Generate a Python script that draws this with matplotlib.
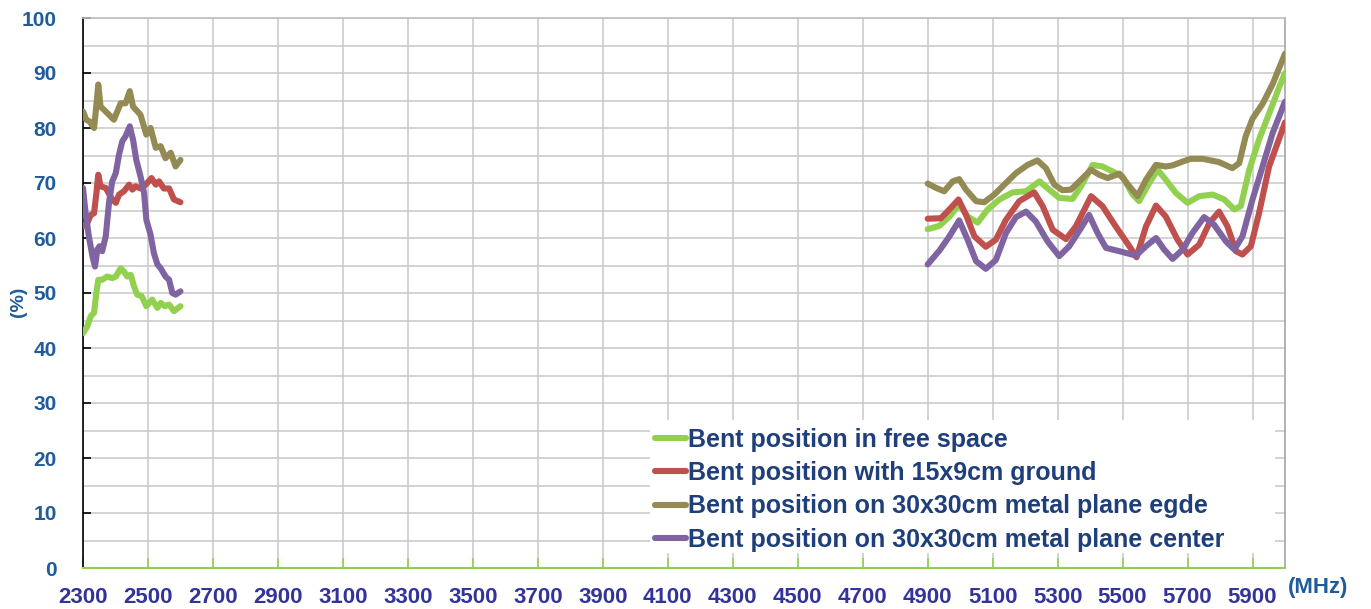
import numpy as np
import matplotlib
matplotlib.use("Agg")
import matplotlib.pyplot as plt
from matplotlib.patches import Rectangle

plt.rcParams['font.family'] = ['Liberation Sans', 'DejaVu Sans']

# ---------------- data ----------------
series_names = [
    "Bent position in free space",
    "Bent position with 15x9cm ground",
    "Bent position on 30x30cm metal plane egde",
    "Bent position on 30x30cm metal plane center",
]
series_colors = ["#92D050", "#C0504D", "#948A54", "#8064A2"]

free_lo_mhz = [2300, 2313, 2324, 2334, 2341, 2347, 2359, 2375, 2390, 2401, 2416, 2426, 2436,
               2447, 2457, 2467, 2481, 2495, 2513, 2529, 2539, 2552, 2565, 2580, 2600]
free_lo_pct = [42.7, 43.9, 45.8, 46.4, 50.0, 52.4, 52.4, 53.0, 52.7, 53.0, 54.5, 53.9, 53.0,
               53.3, 51.2, 49.7, 49.4, 47.6, 48.8, 47.3, 48.2, 47.6, 47.9, 46.7, 47.6]
free_hi_mhz = [4900, 4936, 4967, 4997, 5023, 5054, 5085, 5121, 5162, 5203, 5244, 5274, 5305,
               5346, 5372, 5408, 5438, 5469, 5500, 5531, 5551, 5582, 5608, 5633, 5664, 5700,
               5736, 5777, 5813, 5844, 5864, 5890, 5920, 5951, 5982, 6000]
free_hi_pct = [61.6, 62.2, 63.9, 66.1, 63.9, 62.8, 65.2, 67.0, 68.3, 68.5, 70.3, 68.8, 67.3,
               67.1, 69.4, 73.3, 73.0, 72.1, 71.2, 67.9, 66.7, 70.0, 72.4, 70.6, 68.2, 66.4,
               67.6, 67.9, 67.0, 65.2, 65.8, 72.4, 77.9, 82.6, 87.4, 90.0]

gnd_lo_mhz = [2300, 2313, 2324, 2334, 2341, 2347, 2354, 2370, 2390, 2401, 2411, 2426, 2442,
              2452, 2462, 2477, 2493, 2511, 2524, 2534, 2549, 2565, 2580, 2600]
gnd_lo_pct = [62.1, 62.7, 64.2, 64.5, 68.0, 71.5, 69.4, 69.1, 67.0, 66.4, 67.9, 68.5, 69.7,
              68.8, 69.4, 69.0, 69.7, 70.9, 69.7, 70.3, 69.0, 69.0, 67.0, 66.5]
gnd_hi_mhz = [4900, 4941, 4967, 4995, 5018, 5044, 5079, 5110, 5141, 5182, 5228, 5254, 5285,
              5326, 5356, 5403, 5438, 5479, 5521, 5543, 5572, 5603, 5633, 5669, 5700, 5736,
              5767, 5797, 5823, 5849, 5869, 5895, 5920, 5951, 6000]
gnd_hi_pct = [63.5, 63.6, 65.2, 67.0, 64.2, 60.3, 58.4, 59.7, 63.3, 66.7, 68.3, 65.8, 61.5,
              59.8, 62.1, 67.6, 65.8, 62.1, 58.5, 56.5, 62.1, 65.9, 63.9, 59.7, 57.0, 58.8,
              62.7, 64.8, 62.1, 57.6, 57.0, 58.5, 64.5, 73.0, 81.0]

edge_lo_mhz = [2300, 2310, 2320, 2334, 2341, 2347, 2354, 2370, 2395, 2416, 2431, 2444, 2454,
               2477, 2495, 2508, 2524, 2539, 2554, 2570, 2585, 2600]
edge_lo_pct = [83.0, 81.5, 81.2, 80.0, 84.0, 87.9, 83.9, 83.0, 81.5, 84.5, 84.5, 86.7, 83.9,
               82.4, 78.8, 80.0, 76.4, 76.7, 74.5, 75.5, 73.0, 74.2]
edge_hi_mhz = [4900, 4926, 4951, 4977, 4997, 5018, 5049, 5074, 5105, 5141, 5172, 5208, 5238,
               5264, 5290, 5315, 5341, 5372, 5403, 5428, 5454, 5490, 5521, 5546, 5572, 5603,
               5633, 5654, 5685, 5710, 5746, 5797, 5838, 5859, 5879, 5900, 5931, 5962, 6000]
edge_hi_pct = [69.9, 69.1, 68.5, 70.3, 70.7, 68.8, 66.7, 66.5, 67.9, 70.0, 71.8, 73.3, 74.1,
               72.7, 69.7, 68.7, 68.8, 70.6, 72.4, 71.5, 70.9, 71.7, 69.4, 67.6, 70.6, 73.3,
               73.0, 73.2, 73.9, 74.4, 74.4, 73.8, 72.7, 73.6, 78.5, 81.7, 84.4, 88.0, 93.5]

ctr_lo_mhz = [2300, 2308, 2318, 2329, 2337, 2344, 2351, 2359, 2370, 2380, 2390, 2401, 2411,
              2421, 2431, 2444, 2454, 2464, 2477, 2488, 2495, 2508, 2518, 2529, 2539, 2554,
              2565, 2575, 2585, 2600]
ctr_lo_pct = [69.1, 64.5, 60.3, 56.7, 54.8, 57.9, 58.5, 57.6, 60.3, 66.4, 70.3, 71.8, 75.2,
              77.6, 78.5, 80.3, 77.9, 74.2, 71.2, 68.2, 63.3, 60.6, 57.3, 55.2, 54.5, 53.0,
              52.4, 50.0, 49.7, 50.3]
ctr_hi_mhz = [4900, 4936, 4967, 4997, 5023, 5049, 5079, 5110, 5141, 5172, 5203, 5233, 5269,
              5305, 5336, 5372, 5397, 5423, 5449, 5490, 5541, 5572, 5603, 5628, 5654, 5685,
              5715, 5751, 5782, 5818, 5844, 5869, 5900, 5931, 5962, 6000]
ctr_hi_pct = [55.2, 57.7, 60.3, 63.2, 59.7, 55.8, 54.4, 56.0, 60.9, 63.8, 64.8, 63.0, 59.4,
              56.7, 58.5, 61.8, 64.2, 60.9, 58.2, 57.6, 56.8, 58.5, 60.0, 57.9, 56.2, 57.9,
              60.9, 63.8, 62.4, 59.4, 57.9, 60.3, 67.0, 73.0, 79.1, 84.8]

x_ticks = list(range(2300, 6000, 200))
y_ticks = list(range(0, 101, 10))

segments = [
    (free_lo_mhz, free_lo_pct, free_hi_mhz, free_hi_pct),
    (gnd_lo_mhz, gnd_lo_pct, gnd_hi_mhz, gnd_hi_pct),
    (edge_lo_mhz, edge_lo_pct, edge_hi_mhz, edge_hi_pct),
    (ctr_lo_mhz, ctr_lo_pct, ctr_hi_mhz, ctr_hi_pct),
]

# ---------------- figure ----------------
W, H = 1371, 609
fig = plt.figure(figsize=(W / 100, H / 100), dpi=100)
L, R, T, B = 83, 1285, 18, 568
ax = fig.add_axes([L / W, 1 - B / H, (R - L) / W, (B - T) / H])

ax.set_xlim(2300, 6000)
ax.set_ylim(0, 100)
ax.set_axisbelow(True)

ax.set_xticks(x_ticks)
ax.set_yticks(y_ticks)
ax.set_yticks(list(range(5, 100, 10)), minor=True)
ax.grid(True, which='both', axis='y', color='#C8C8C8', linewidth=1.1)
ax.grid(True, which='major', axis='x', color='#C8C8C8', linewidth=1.1)

handles = []
for (flo, vlo, fhi, vhi), name, col in zip(segments, series_names, series_colors):
    kw = dict(color=col, linewidth=4.4, solid_capstyle='round', solid_joinstyle='round', zorder=3)
    h, = ax.plot(flo, vlo, label=name, **kw)
    ax.plot(fhi, vhi, **kw)
    handles.append(h)

# white area behind legend (covers gridlines)
ax.add_patch(Rectangle(((650 - L) / (R - L), (B - 553) / (B - T)),
                       (1275 - 650) / (R - L), (553 - 420) / (B - T),
                       transform=ax.transAxes, facecolor='white', edgecolor='none', zorder=1.5))

leg = ax.legend(handles=handles, loc='upper left',
                bbox_to_anchor=((655 - L) / (R - L), (B - 427.5) / (B - T)),
                frameon=False, borderaxespad=0, borderpad=0.0,
                handlelength=1.25, handletextpad=0.08, labelspacing=0.38,
                prop={'weight': 'bold', 'size': 18})
for t in leg.get_texts():
    t.set_color('#1F3F7A')
leg.set_zorder(5)

# spines
ax.spines['left'].set_color('black')
ax.spines['left'].set_linewidth(1.2)
ax.spines['bottom'].set_color('#92D050')
ax.spines['bottom'].set_linewidth(1.5)
ax.spines['right'].set_color('#A6A6A6')
ax.spines['right'].set_linewidth(1.2)
ax.spines['top'].set_color('#BFBFBF')
ax.spines['top'].set_linewidth(1.2)

ax.tick_params(axis='x', which='major', direction='in', length=7, width=1.2,
               color='#92D050', pad=14, labelsize=16, labelcolor='#33339A')
ax.tick_params(axis='y', which='major', direction='in', length=6, width=1.2,
               color='black', pad=19, labelsize=15, labelcolor='#1F5C99')
ax.tick_params(axis='y', which='minor', length=0)
for lab in ax.get_xticklabels() + ax.get_yticklabels():
    lab.set_fontweight('bold')

fig.text(1318 / W, 1 - 588 / H, "(MHz)", ha='center', va='center',
         fontsize=16, fontweight='bold', color='#1F5C99')
fig.text(19 / W, 1 - 302 / H, "(%)", ha='center', va='center', rotation=90,
         fontsize=14, fontweight='bold', color='#1F5C99')

fig.savefig("out.png", dpi=100, facecolor='white')
